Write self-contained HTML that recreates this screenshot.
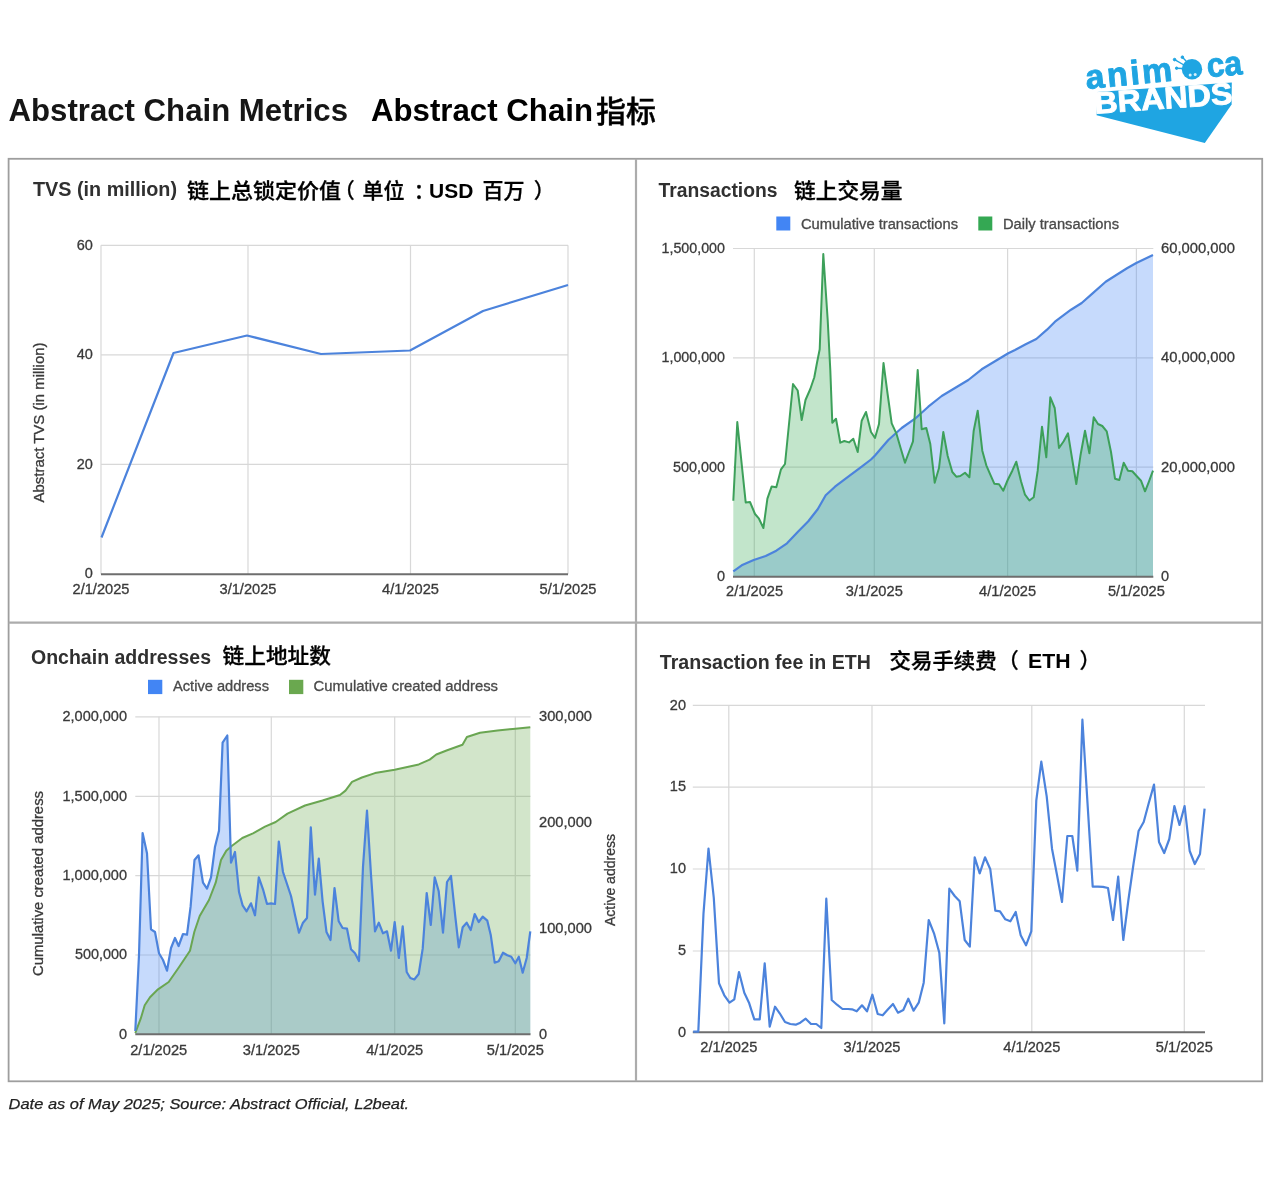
<!DOCTYPE html>
<html lang="en">
<head>
<meta charset="utf-8">
<title>Abstract Chain Metrics</title>
<style>html,body{margin:0;padding:0;background:#fff}body{width:1280px;height:1201px;overflow:hidden}svg{display:block;filter:blur(0.45px)}</style>
</head>
<body>
<svg width="1280" height="1201" viewBox="0 0 1280 1201" font-family='"Liberation Sans","Noto Sans CJK SC",sans-serif'>
<rect width="1280" height="1201" fill="#fff"/>
<text x="8.5" y="120.6" font-size="30.5" fill="#161616" font-weight="bold" textLength="339.5" lengthAdjust="spacingAndGlyphs">Abstract Chain Metrics</text>
<text x="371" y="121.3" font-size="31" fill="#000" font-weight="bold" textLength="222" lengthAdjust="spacingAndGlyphs">Abstract Chain</text>
<text x="596" y="121.8" font-size="29.5" fill="#000" font-weight="500" textLength="60" lengthAdjust="spacingAndGlyphs" stroke="#000" stroke-width="0.4">指标</text>
<g id="logo">
<polygon points="1097.2,92.0 1231.8,82.6 1231.6,104.6 1204.8,143 1096.6,115.2" fill="#1fa5e2"/>
<g transform="translate(1095.0,113.7) rotate(-4.1)">
<text x="0" y="0" font-size="30.5" fill="#fff" font-weight="bold" textLength="138.5" lengthAdjust="spacingAndGlyphs" stroke="#fff" stroke-width="0.9" stroke-linejoin="round">BRANDS</text>
</g>
<g transform="translate(1086.6,89.0) rotate(-5.5)">
<text x="0" y="0" font-size="34" fill="#1fa5e2" font-weight="bold" textLength="87" lengthAdjust="spacing" stroke="#1fa5e2" stroke-width="0.9" stroke-linejoin="round">anim</text>
<text x="121.6" y="0" font-size="34" fill="#1fa5e2" font-weight="bold" textLength="35.5" lengthAdjust="spacingAndGlyphs" stroke="#1fa5e2" stroke-width="0.9" stroke-linejoin="round">ca</text>
</g>
<g fill="#1fa5e2" stroke="#1fa5e2">
<circle cx="1192" cy="69.2" r="10.2" stroke="none"/>
<circle cx="1174.6" cy="59.6" r="1.3"/><circle cx="1182.4" cy="57.2" r="1.3"/><circle cx="1176.6" cy="68.2" r="1.2"/>
<path d="M1174.6 59.6 L1184 65 M1182.4 57.2 L1187 62 M1176.6 68.2 L1183 68.5" stroke-width="1.4" fill="none"/>
</g>
<circle cx="1190.2" cy="74.9" r="1.5" fill="#d6f0fb"/><circle cx="1195.2" cy="74.5" r="1.5" fill="#d6f0fb"/>
</g>
<g fill="none" stroke="#9e9e9e" stroke-width="1.8">
<rect x="8.6" y="158.8" width="1253.6" height="922.5"/>
</g>
<g fill="none" stroke="#acacac" stroke-width="2.2">
<line x1="636" y1="158.8" x2="636" y2="1081.2"/>
<line x1="8.6" y1="622.7" x2="1262.2" y2="622.7"/>
</g>
<g id="tvs">
<text x="33" y="195.6" font-size="20" fill="#303030" font-weight="bold" textLength="144" lengthAdjust="spacingAndGlyphs">TVS (in million)</text>
<text x="187" y="198" font-size="21" fill="#000" font-weight="500" textLength="154" lengthAdjust="spacingAndGlyphs" stroke="#000" stroke-width="0.3">链上总锁定价值</text>
<text x="333.8" y="198" font-size="21" fill="#000" font-weight="500" stroke="#000" stroke-width="0.3">（</text>
<text x="362.5" y="198" font-size="21" fill="#000" font-weight="500" stroke="#000" stroke-width="0.3">单位</text>
<text x="413.7" y="198" font-size="21" fill="#000" font-weight="500" stroke="#000" stroke-width="0.3">：</text>
<text x="429" y="198" font-size="21" fill="#000" font-weight="bold" textLength="44.3" lengthAdjust="spacingAndGlyphs">USD</text>
<text x="482.4" y="198" font-size="21" fill="#000" font-weight="500" stroke="#000" stroke-width="0.3">百万</text>
<text x="533.8" y="198" font-size="21" fill="#000" font-weight="500" stroke="#000" stroke-width="0.3">）</text>
<g stroke="#d8d8d8" stroke-width="1.2">
<line x1="101" y1="245.3" x2="568" y2="245.3"/>
<line x1="101" y1="354.8" x2="568" y2="354.8"/>
<line x1="101" y1="464.4" x2="568" y2="464.4"/>
<line x1="101" y1="245.3" x2="101" y2="574.2"/>
<line x1="248" y1="245.3" x2="248" y2="574.2"/>
<line x1="410.5" y1="245.3" x2="410.5" y2="574.2"/>
<line x1="568" y1="245.3" x2="568" y2="574.2"/>
</g>
<line x1="101" y1="574.2" x2="568" y2="574.2" stroke="#6e6e6e" stroke-width="2"/>
<text x="92.8" y="249.60000000000002" font-size="14.5" fill="#3a3a3a" text-anchor="end" stroke="#3a3a3a" stroke-width="0.3">60</text>
<text x="92.8" y="359.1" font-size="14.5" fill="#3a3a3a" text-anchor="end" stroke="#3a3a3a" stroke-width="0.3">40</text>
<text x="92.8" y="468.7" font-size="14.5" fill="#3a3a3a" text-anchor="end" stroke="#3a3a3a" stroke-width="0.3">20</text>
<text x="92.8" y="578.3" font-size="14.5" fill="#3a3a3a" text-anchor="end" stroke="#3a3a3a" stroke-width="0.3">0</text>
<text x="101" y="594" font-size="14.5" fill="#3a3a3a" text-anchor="middle" textLength="57" lengthAdjust="spacingAndGlyphs" stroke="#3a3a3a" stroke-width="0.3">2/1/2025</text>
<text x="248" y="594" font-size="14.5" fill="#3a3a3a" text-anchor="middle" textLength="57" lengthAdjust="spacingAndGlyphs" stroke="#3a3a3a" stroke-width="0.3">3/1/2025</text>
<text x="410.5" y="594" font-size="14.5" fill="#3a3a3a" text-anchor="middle" textLength="57" lengthAdjust="spacingAndGlyphs" stroke="#3a3a3a" stroke-width="0.3">4/1/2025</text>
<text x="568" y="594" font-size="14.5" fill="#3a3a3a" text-anchor="middle" textLength="57" lengthAdjust="spacingAndGlyphs" stroke="#3a3a3a" stroke-width="0.3">5/1/2025</text>
<text x="43.8" y="422.5" font-size="14.5" fill="#3a3a3a" text-anchor="middle" textLength="160" lengthAdjust="spacingAndGlyphs" transform="rotate(-90 43.8 422.5)" stroke="#3a3a3a" stroke-width="0.3">Abstract TVS (in million)</text>
<polyline points="101.5,537.5 173.5,353.0 247.0,335.5 321.0,354.0 410.0,350.5 483.0,311.0 568.0,285.0" fill="none" stroke="#4c83dc" stroke-width="2.2" stroke-linejoin="round"/>
</g>
<g id="tx">
<text x="658.5" y="197" font-size="20" fill="#303030" font-weight="bold" textLength="119" lengthAdjust="spacingAndGlyphs">Transactions</text>
<text x="794" y="198" font-size="21" fill="#000" font-weight="500" textLength="108.5" lengthAdjust="spacingAndGlyphs" stroke="#000" stroke-width="0.3">链上交易量</text>
<rect x="776.3" y="216.5" width="14" height="14" fill="#4285f4"/>
<text x="801" y="228.5" font-size="14" fill="#4a4a4a" textLength="157" lengthAdjust="spacingAndGlyphs" stroke="#4a4a4a" stroke-width="0.3">Cumulative transactions</text>
<rect x="978.3" y="216.5" width="14" height="14" fill="#34a853"/>
<text x="1003" y="228.5" font-size="14" fill="#4a4a4a" textLength="116" lengthAdjust="spacingAndGlyphs" stroke="#4a4a4a" stroke-width="0.3">Daily transactions</text>
<g stroke="#d8d8d8" stroke-width="1.2">
<line x1="733" y1="248.5" x2="1153.3" y2="248.5"/>
<line x1="733" y1="357.8" x2="1153.3" y2="357.8"/>
<line x1="733" y1="467.2" x2="1153.3" y2="467.2"/>
<line x1="754.3" y1="248.5" x2="754.3" y2="576.8"/>
<line x1="874.3" y1="248.5" x2="874.3" y2="576.8"/>
<line x1="1007.6" y1="248.5" x2="1007.6" y2="576.8"/>
<line x1="1136.4" y1="248.5" x2="1136.4" y2="576.8"/>
</g>
<polygon points="733.3,571.3 741.7,565.3 753.7,560.0 765.7,556.0 776.3,550.7 787.0,543.3 797.7,532.0 808.3,521.3 817.7,509.3 825.7,495.3 835.0,486.7 848.3,476.7 861.7,466.7 871.0,459.5 875.0,455.5 888.3,440.0 901.7,428.0 915.0,418.7 928.3,406.7 941.7,396.0 955.0,388.0 968.3,380.0 981.7,369.3 995.0,361.3 1008.3,353.3 1015.0,350.0 1025.7,344.3 1036.3,339.0 1047.0,329.7 1055.0,321.7 1071.0,309.7 1081.7,303.0 1092.3,293.7 1105.7,281.7 1116.3,275.0 1127.0,268.3 1136.3,263.0 1153.0,255.0 1153.0,576.8 733.3,576.8" fill="#4285f4" fill-opacity="0.3"/>
<polygon points="733.3,500.7 737.3,422.0 745.7,502.4 750.0,502.0 755.0,514.0 759.0,518.7 763.4,528.0 767.4,498.7 771.7,486.4 776.3,487.3 781.0,469.3 785.0,464.0 789.0,424.0 793.0,384.0 797.7,390.5 801.7,420.0 805.5,400.0 810.3,389.0 814.3,377.3 817.0,362.7 819.7,349.3 823.3,254.0 827.7,320.0 830.3,370.0 832.3,422.7 836.0,418.7 840.3,442.7 844.3,441.0 849.0,442.4 853.3,438.7 857.7,452.0 861.7,420.7 866.0,412.0 871.0,432.0 875.0,438.0 879.0,424.0 883.5,363.0 887.6,394.0 891.7,423.3 896.3,433.3 900.6,448.0 905.0,462.7 909.0,452.0 913.0,441.3 917.7,370.0 921.7,429.3 926.3,428.0 930.3,444.0 934.7,482.7 939.0,468.0 943.3,432.0 947.7,456.0 952.3,472.0 956.3,476.7 960.3,476.0 965.0,472.7 969.4,477.3 973.7,430.7 977.7,410.7 982.3,450.7 986.3,465.3 990.3,474.7 994.3,483.7 999.0,484.3 1003.3,490.7 1007.7,480.0 1012.3,470.7 1016.3,461.7 1021.0,481.3 1025.0,494.7 1029.4,500.5 1033.7,497.3 1037.7,470.7 1042.0,426.7 1046.3,457.3 1050.3,397.3 1054.7,408.0 1059.0,448.0 1063.7,441.3 1068.0,433.3 1072.3,460.0 1076.3,484.0 1080.6,454.7 1085.0,430.7 1089.4,453.3 1093.7,417.3 1098.0,424.0 1102.3,426.0 1106.7,431.3 1111.0,452.0 1115.0,478.7 1119.3,480.0 1123.7,462.7 1128.0,470.7 1132.3,471.3 1136.6,476.0 1141.0,480.7 1145.0,491.3 1149.0,481.3 1153.0,470.7 1153.0,576.8 733.3,576.8" fill="#34a853" fill-opacity="0.3"/>
<polyline points="733.3,571.3 741.7,565.3 753.7,560.0 765.7,556.0 776.3,550.7 787.0,543.3 797.7,532.0 808.3,521.3 817.7,509.3 825.7,495.3 835.0,486.7 848.3,476.7 861.7,466.7 871.0,459.5 875.0,455.5 888.3,440.0 901.7,428.0 915.0,418.7 928.3,406.7 941.7,396.0 955.0,388.0 968.3,380.0 981.7,369.3 995.0,361.3 1008.3,353.3 1015.0,350.0 1025.7,344.3 1036.3,339.0 1047.0,329.7 1055.0,321.7 1071.0,309.7 1081.7,303.0 1092.3,293.7 1105.7,281.7 1116.3,275.0 1127.0,268.3 1136.3,263.0 1153.0,255.0" fill="none" stroke="#4c83dc" stroke-width="2.2" stroke-linejoin="round"/>
<polyline points="733.3,500.7 737.3,422.0 745.7,502.4 750.0,502.0 755.0,514.0 759.0,518.7 763.4,528.0 767.4,498.7 771.7,486.4 776.3,487.3 781.0,469.3 785.0,464.0 789.0,424.0 793.0,384.0 797.7,390.5 801.7,420.0 805.5,400.0 810.3,389.0 814.3,377.3 817.0,362.7 819.7,349.3 823.3,254.0 827.7,320.0 830.3,370.0 832.3,422.7 836.0,418.7 840.3,442.7 844.3,441.0 849.0,442.4 853.3,438.7 857.7,452.0 861.7,420.7 866.0,412.0 871.0,432.0 875.0,438.0 879.0,424.0 883.5,363.0 887.6,394.0 891.7,423.3 896.3,433.3 900.6,448.0 905.0,462.7 909.0,452.0 913.0,441.3 917.7,370.0 921.7,429.3 926.3,428.0 930.3,444.0 934.7,482.7 939.0,468.0 943.3,432.0 947.7,456.0 952.3,472.0 956.3,476.7 960.3,476.0 965.0,472.7 969.4,477.3 973.7,430.7 977.7,410.7 982.3,450.7 986.3,465.3 990.3,474.7 994.3,483.7 999.0,484.3 1003.3,490.7 1007.7,480.0 1012.3,470.7 1016.3,461.7 1021.0,481.3 1025.0,494.7 1029.4,500.5 1033.7,497.3 1037.7,470.7 1042.0,426.7 1046.3,457.3 1050.3,397.3 1054.7,408.0 1059.0,448.0 1063.7,441.3 1068.0,433.3 1072.3,460.0 1076.3,484.0 1080.6,454.7 1085.0,430.7 1089.4,453.3 1093.7,417.3 1098.0,424.0 1102.3,426.0 1106.7,431.3 1111.0,452.0 1115.0,478.7 1119.3,480.0 1123.7,462.7 1128.0,470.7 1132.3,471.3 1136.6,476.0 1141.0,480.7 1145.0,491.3 1149.0,481.3 1153.0,470.7" fill="none" stroke="#3da05a" stroke-width="2" stroke-linejoin="round"/>
<line x1="733" y1="576.8" x2="1153.3" y2="576.8" stroke="#6e6e6e" stroke-width="2"/>
<text x="725" y="252.8" font-size="14.5" fill="#3a3a3a" text-anchor="end" textLength="63.5" lengthAdjust="spacingAndGlyphs" stroke="#3a3a3a" stroke-width="0.3">1,500,000</text>
<text x="725" y="362.1" font-size="14.5" fill="#3a3a3a" text-anchor="end" textLength="63.5" lengthAdjust="spacingAndGlyphs" stroke="#3a3a3a" stroke-width="0.3">1,000,000</text>
<text x="725" y="471.5" font-size="14.5" fill="#3a3a3a" text-anchor="end" textLength="52" lengthAdjust="spacingAndGlyphs" stroke="#3a3a3a" stroke-width="0.3">500,000</text>
<text x="725" y="581.0999999999999" font-size="14.5" fill="#3a3a3a" text-anchor="end" stroke="#3a3a3a" stroke-width="0.3">0</text>
<text x="1161" y="252.8" font-size="14.5" fill="#3a3a3a" textLength="74" lengthAdjust="spacingAndGlyphs" stroke="#3a3a3a" stroke-width="0.3">60,000,000</text>
<text x="1161" y="362.1" font-size="14.5" fill="#3a3a3a" textLength="74" lengthAdjust="spacingAndGlyphs" stroke="#3a3a3a" stroke-width="0.3">40,000,000</text>
<text x="1161" y="471.5" font-size="14.5" fill="#3a3a3a" textLength="74" lengthAdjust="spacingAndGlyphs" stroke="#3a3a3a" stroke-width="0.3">20,000,000</text>
<text x="1161" y="581.0999999999999" font-size="14.5" fill="#3a3a3a" stroke="#3a3a3a" stroke-width="0.3">0</text>
<text x="754.6" y="596" font-size="14.5" fill="#3a3a3a" text-anchor="middle" textLength="57" lengthAdjust="spacingAndGlyphs" stroke="#3a3a3a" stroke-width="0.3">2/1/2025</text>
<text x="874.3" y="596" font-size="14.5" fill="#3a3a3a" text-anchor="middle" textLength="57" lengthAdjust="spacingAndGlyphs" stroke="#3a3a3a" stroke-width="0.3">3/1/2025</text>
<text x="1007.6" y="596" font-size="14.5" fill="#3a3a3a" text-anchor="middle" textLength="57" lengthAdjust="spacingAndGlyphs" stroke="#3a3a3a" stroke-width="0.3">4/1/2025</text>
<text x="1136.4" y="596" font-size="14.5" fill="#3a3a3a" text-anchor="middle" textLength="57" lengthAdjust="spacingAndGlyphs" stroke="#3a3a3a" stroke-width="0.3">5/1/2025</text>
</g>
<g id="oc">
<text x="31" y="663.5" font-size="20" fill="#303030" font-weight="bold" textLength="180" lengthAdjust="spacingAndGlyphs">Onchain addresses</text>
<text x="222.5" y="662.5" font-size="21" fill="#000" font-weight="500" textLength="108.5" lengthAdjust="spacingAndGlyphs" stroke="#000" stroke-width="0.3">链上地址数</text>
<rect x="148" y="679.8" width="14.3" height="14.3" fill="#4285f4"/>
<text x="173" y="691" font-size="14" fill="#4a4a4a" textLength="96" lengthAdjust="spacingAndGlyphs" stroke="#4a4a4a" stroke-width="0.3">Active address</text>
<rect x="289" y="679.8" width="14.3" height="14.3" fill="#6aa84f"/>
<text x="313.5" y="691" font-size="14" fill="#4a4a4a" textLength="184.5" lengthAdjust="spacingAndGlyphs" stroke="#4a4a4a" stroke-width="0.3">Cumulative created address</text>
<g stroke="#d8d8d8" stroke-width="1.2">
<line x1="135.3" y1="716.8" x2="530.5" y2="716.8"/>
<line x1="135.3" y1="796.3" x2="530.5" y2="796.3"/>
<line x1="135.3" y1="875.7" x2="530.5" y2="875.7"/>
<line x1="135.3" y1="955" x2="530.5" y2="955"/>
<line x1="159" y1="716.8" x2="159" y2="1034.3"/>
<line x1="271.3" y1="716.8" x2="271.3" y2="1034.3"/>
<line x1="394.7" y1="716.8" x2="394.7" y2="1034.3"/>
<line x1="515.3" y1="716.8" x2="515.3" y2="1034.3"/>
</g>
<polygon points="135.3,1031.0 139.0,955.0 142.6,833.0 147.0,853.3 151.0,929.3 155.0,932.0 159.0,953.3 163.0,960.0 167.0,970.7 171.0,948.0 175.0,938.0 178.6,946.0 183.0,934.0 187.0,934.7 190.6,906.7 194.5,860.0 198.5,855.3 203.0,882.7 207.0,888.7 211.0,877.3 215.0,846.7 219.0,830.7 222.6,742.7 227.3,735.5 231.0,862.7 235.0,852.0 239.0,892.0 242.6,905.3 246.6,911.3 251.0,903.3 255.0,915.3 258.8,877.3 263.0,889.3 267.0,904.0 271.0,903.3 275.0,904.0 278.8,841.5 283.0,872.0 287.0,884.0 291.0,896.0 295.0,915.0 299.0,932.7 303.0,922.7 307.0,918.0 310.8,827.3 315.0,894.7 318.8,858.7 322.6,901.3 326.5,932.0 330.5,940.0 334.5,888.0 338.7,921.3 342.6,928.0 347.0,928.7 351.0,949.3 355.0,953.3 359.0,961.0 363.0,866.7 367.0,810.7 371.0,874.7 375.0,931.3 378.8,922.7 383.0,933.3 387.0,931.3 391.0,950.7 394.7,922.0 398.8,958.0 402.7,926.3 406.7,972.0 410.3,978.0 414.3,979.5 418.7,974.0 422.7,948.7 426.7,893.0 430.8,925.0 434.7,877.3 438.7,891.3 443.0,932.7 447.0,882.0 451.0,876.0 455.3,916.7 458.8,947.3 462.7,927.3 466.7,922.7 470.7,930.0 474.7,914.0 478.7,922.0 482.7,916.7 487.3,920.7 490.8,935.3 494.7,962.7 498.7,961.3 503.0,952.7 507.3,955.3 511.3,956.7 515.3,963.3 518.8,956.7 522.7,972.7 526.7,958.0 530.3,931.3 530.3,1034.3 135.3,1034.3" fill="#4285f4" fill-opacity="0.3"/>
<polygon points="135.3,1033.0 140.7,1018.7 144.7,1005.3 150.0,997.3 158.0,989.3 168.7,982.0 179.3,966.7 190.0,950.7 194.3,932.0 199.7,916.0 209.0,900.0 215.7,882.7 221.0,860.0 226.3,850.7 231.7,846.0 242.3,838.0 253.0,833.3 265.0,826.7 275.7,822.0 287.5,813.6 305.0,805.5 322.5,800.5 340.0,795.0 345.5,790.6 352.0,781.9 361.9,777.5 375.0,773.1 394.7,769.8 418.8,764.4 429.7,759.6 436.3,754.5 447.2,750.2 462.5,744.7 466.9,737.0 480.0,732.7 497.5,730.5 512.8,728.9 530.3,727.2 530.3,1034.3 135.3,1034.3" fill="#6aa84f" fill-opacity="0.3"/>
<polyline points="135.3,1033.0 140.7,1018.7 144.7,1005.3 150.0,997.3 158.0,989.3 168.7,982.0 179.3,966.7 190.0,950.7 194.3,932.0 199.7,916.0 209.0,900.0 215.7,882.7 221.0,860.0 226.3,850.7 231.7,846.0 242.3,838.0 253.0,833.3 265.0,826.7 275.7,822.0 287.5,813.6 305.0,805.5 322.5,800.5 340.0,795.0 345.5,790.6 352.0,781.9 361.9,777.5 375.0,773.1 394.7,769.8 418.8,764.4 429.7,759.6 436.3,754.5 447.2,750.2 462.5,744.7 466.9,737.0 480.0,732.7 497.5,730.5 512.8,728.9 530.3,727.2" fill="none" stroke="#6aa652" stroke-width="2" stroke-linejoin="round"/>
<polyline points="135.3,1031.0 139.0,955.0 142.6,833.0 147.0,853.3 151.0,929.3 155.0,932.0 159.0,953.3 163.0,960.0 167.0,970.7 171.0,948.0 175.0,938.0 178.6,946.0 183.0,934.0 187.0,934.7 190.6,906.7 194.5,860.0 198.5,855.3 203.0,882.7 207.0,888.7 211.0,877.3 215.0,846.7 219.0,830.7 222.6,742.7 227.3,735.5 231.0,862.7 235.0,852.0 239.0,892.0 242.6,905.3 246.6,911.3 251.0,903.3 255.0,915.3 258.8,877.3 263.0,889.3 267.0,904.0 271.0,903.3 275.0,904.0 278.8,841.5 283.0,872.0 287.0,884.0 291.0,896.0 295.0,915.0 299.0,932.7 303.0,922.7 307.0,918.0 310.8,827.3 315.0,894.7 318.8,858.7 322.6,901.3 326.5,932.0 330.5,940.0 334.5,888.0 338.7,921.3 342.6,928.0 347.0,928.7 351.0,949.3 355.0,953.3 359.0,961.0 363.0,866.7 367.0,810.7 371.0,874.7 375.0,931.3 378.8,922.7 383.0,933.3 387.0,931.3 391.0,950.7 394.7,922.0 398.8,958.0 402.7,926.3 406.7,972.0 410.3,978.0 414.3,979.5 418.7,974.0 422.7,948.7 426.7,893.0 430.8,925.0 434.7,877.3 438.7,891.3 443.0,932.7 447.0,882.0 451.0,876.0 455.3,916.7 458.8,947.3 462.7,927.3 466.7,922.7 470.7,930.0 474.7,914.0 478.7,922.0 482.7,916.7 487.3,920.7 490.8,935.3 494.7,962.7 498.7,961.3 503.0,952.7 507.3,955.3 511.3,956.7 515.3,963.3 518.8,956.7 522.7,972.7 526.7,958.0 530.3,931.3" fill="none" stroke="#4c83dc" stroke-width="2.2" stroke-linejoin="round"/>
<line x1="135.3" y1="1034.3" x2="530.5" y2="1034.3" stroke="#6e6e6e" stroke-width="2"/>
<text x="127" y="721.0999999999999" font-size="14.5" fill="#3a3a3a" text-anchor="end" textLength="64.5" lengthAdjust="spacingAndGlyphs" stroke="#3a3a3a" stroke-width="0.3">2,000,000</text>
<text x="127" y="800.5999999999999" font-size="14.5" fill="#3a3a3a" text-anchor="end" textLength="64.5" lengthAdjust="spacingAndGlyphs" stroke="#3a3a3a" stroke-width="0.3">1,500,000</text>
<text x="127" y="880.0" font-size="14.5" fill="#3a3a3a" text-anchor="end" textLength="64.5" lengthAdjust="spacingAndGlyphs" stroke="#3a3a3a" stroke-width="0.3">1,000,000</text>
<text x="127" y="959.3" font-size="14.5" fill="#3a3a3a" text-anchor="end" textLength="52" lengthAdjust="spacingAndGlyphs" stroke="#3a3a3a" stroke-width="0.3">500,000</text>
<text x="127" y="1038.6" font-size="14.5" fill="#3a3a3a" text-anchor="end" stroke="#3a3a3a" stroke-width="0.3">0</text>
<text x="539" y="721.0999999999999" font-size="14.5" fill="#3a3a3a" textLength="53" lengthAdjust="spacingAndGlyphs" stroke="#3a3a3a" stroke-width="0.3">300,000</text>
<text x="539" y="826.9" font-size="14.5" fill="#3a3a3a" textLength="53" lengthAdjust="spacingAndGlyphs" stroke="#3a3a3a" stroke-width="0.3">200,000</text>
<text x="539" y="932.8" font-size="14.5" fill="#3a3a3a" textLength="53" lengthAdjust="spacingAndGlyphs" stroke="#3a3a3a" stroke-width="0.3">100,000</text>
<text x="539" y="1038.6" font-size="14.5" fill="#3a3a3a" stroke="#3a3a3a" stroke-width="0.3">0</text>
<text x="158.7" y="1054.7" font-size="14.5" fill="#3a3a3a" text-anchor="middle" textLength="57" lengthAdjust="spacingAndGlyphs" stroke="#3a3a3a" stroke-width="0.3">2/1/2025</text>
<text x="271.3" y="1054.7" font-size="14.5" fill="#3a3a3a" text-anchor="middle" textLength="57" lengthAdjust="spacingAndGlyphs" stroke="#3a3a3a" stroke-width="0.3">3/1/2025</text>
<text x="394.7" y="1054.7" font-size="14.5" fill="#3a3a3a" text-anchor="middle" textLength="57" lengthAdjust="spacingAndGlyphs" stroke="#3a3a3a" stroke-width="0.3">4/1/2025</text>
<text x="515.3" y="1054.7" font-size="14.5" fill="#3a3a3a" text-anchor="middle" textLength="57" lengthAdjust="spacingAndGlyphs" stroke="#3a3a3a" stroke-width="0.3">5/1/2025</text>
<text x="43" y="883.5" font-size="14.5" fill="#3a3a3a" text-anchor="middle" textLength="185" lengthAdjust="spacingAndGlyphs" transform="rotate(-90 43 883.5)" stroke="#3a3a3a" stroke-width="0.3">Cumulative created address</text>
<text x="615" y="880" font-size="14.5" fill="#3a3a3a" text-anchor="middle" textLength="92" lengthAdjust="spacingAndGlyphs" transform="rotate(-90 615 880)" stroke="#3a3a3a" stroke-width="0.3">Active address</text>
</g>
<g id="fee">
<text x="659.8" y="668.8" font-size="20" fill="#303030" font-weight="bold" textLength="211" lengthAdjust="spacingAndGlyphs">Transaction fee in ETH</text>
<text x="889.6" y="668.3" font-size="21" fill="#000" font-weight="500" textLength="107" lengthAdjust="spacingAndGlyphs" stroke="#000" stroke-width="0.3">交易手续费</text>
<text x="997.8" y="668.3" font-size="21" fill="#000" font-weight="500" stroke="#000" stroke-width="0.3">（</text>
<text x="1028" y="668.3" font-size="21" fill="#000" font-weight="bold" textLength="42.5" lengthAdjust="spacingAndGlyphs">ETH</text>
<text x="1079.4" y="668.3" font-size="21" fill="#000" font-weight="500" stroke="#000" stroke-width="0.3">）</text>
<g stroke="#d8d8d8" stroke-width="1.2">
<line x1="692.8" y1="705.3" x2="1205" y2="705.3"/>
<line x1="692.8" y1="787.1" x2="1205" y2="787.1"/>
<line x1="692.8" y1="869" x2="1205" y2="869"/>
<line x1="692.8" y1="951" x2="1205" y2="951"/>
<line x1="728.8" y1="705.3" x2="728.8" y2="1032.3"/>
<line x1="872" y1="705.3" x2="872" y2="1032.3"/>
<line x1="1031.8" y1="705.3" x2="1031.8" y2="1032.3"/>
<line x1="1184.3" y1="705.3" x2="1184.3" y2="1032.3"/>
</g>
<line x1="692.8" y1="1032.3" x2="1205" y2="1032.3" stroke="#6e6e6e" stroke-width="2"/>
<polyline points="693.2,1031.7 698.3,1031.7 703.5,913.3 708.5,848.5 713.8,898.0 719.0,983.3 724.3,995.3 729.5,1002.7 734.3,999.3 739.0,972.0 744.3,992.7 749.0,1002.7 754.3,1019.3 759.7,1019.3 764.7,963.3 769.7,1026.7 775.0,1006.7 779.7,1013.3 785.0,1022.0 790.3,1024.0 795.7,1024.7 800.3,1022.7 805.7,1018.7 811.0,1024.0 816.3,1024.0 821.3,1028.0 826.3,898.7 831.7,1000.0 837.0,1004.7 842.5,1009.0 848.0,1009.0 852.0,1009.3 856.7,1011.3 862.0,1005.3 867.0,1011.3 872.4,994.7 877.7,1014.0 882.7,1015.3 888.0,1009.3 893.0,1004.0 898.0,1012.7 903.3,1010.0 908.3,998.7 913.6,1010.7 918.7,1002.7 923.7,982.7 928.7,920.0 934.0,933.3 939.3,952.7 944.3,1023.3 949.3,888.7 954.7,896.0 959.7,901.3 964.7,940.0 969.8,946.7 974.7,857.3 979.7,873.3 985.0,857.3 990.3,869.3 995.3,910.7 1000.0,911.3 1005.3,919.3 1010.4,921.3 1015.7,912.0 1020.7,935.3 1026.0,945.3 1031.3,931.3 1036.3,800.3 1041.3,761.7 1046.7,796.3 1052.0,848.7 1057.0,875.0 1062.0,902.0 1067.3,836.0 1072.3,836.0 1077.3,870.7 1082.4,719.7 1087.5,803.0 1092.7,886.7 1097.8,886.7 1102.9,886.9 1108.0,888.0 1113.0,920.0 1118.2,876.7 1123.3,940.0 1128.4,900.0 1133.5,864.0 1138.6,831.0 1143.7,822.0 1148.8,803.0 1154.0,784.5 1159.0,842.0 1164.2,853.0 1169.3,839.0 1174.4,806.0 1179.5,825.0 1184.6,806.0 1189.7,851.0 1194.8,864.0 1200.0,854.0 1204.6,808.7" fill="none" stroke="#4c83dc" stroke-width="2.2" stroke-linejoin="round"/>
<text x="686" y="709.5999999999999" font-size="14.5" fill="#3a3a3a" text-anchor="end" stroke="#3a3a3a" stroke-width="0.3">20</text>
<text x="686" y="791.4" font-size="14.5" fill="#3a3a3a" text-anchor="end" stroke="#3a3a3a" stroke-width="0.3">15</text>
<text x="686" y="873.3" font-size="14.5" fill="#3a3a3a" text-anchor="end" stroke="#3a3a3a" stroke-width="0.3">10</text>
<text x="686" y="955.3" font-size="14.5" fill="#3a3a3a" text-anchor="end" stroke="#3a3a3a" stroke-width="0.3">5</text>
<text x="686" y="1036.6" font-size="14.5" fill="#3a3a3a" text-anchor="end" stroke="#3a3a3a" stroke-width="0.3">0</text>
<text x="728.8" y="1052" font-size="14.5" fill="#3a3a3a" text-anchor="middle" textLength="57" lengthAdjust="spacingAndGlyphs" stroke="#3a3a3a" stroke-width="0.3">2/1/2025</text>
<text x="872" y="1052" font-size="14.5" fill="#3a3a3a" text-anchor="middle" textLength="57" lengthAdjust="spacingAndGlyphs" stroke="#3a3a3a" stroke-width="0.3">3/1/2025</text>
<text x="1031.8" y="1052" font-size="14.5" fill="#3a3a3a" text-anchor="middle" textLength="57" lengthAdjust="spacingAndGlyphs" stroke="#3a3a3a" stroke-width="0.3">4/1/2025</text>
<text x="1184.3" y="1052" font-size="14.5" fill="#3a3a3a" text-anchor="middle" textLength="57" lengthAdjust="spacingAndGlyphs" stroke="#3a3a3a" stroke-width="0.3">5/1/2025</text>
</g>
<text x="8.6" y="1108.5" font-size="15.5" fill="#222" font-style="italic" textLength="400.5" lengthAdjust="spacingAndGlyphs" stroke="#222" stroke-width="0.25">Date as of May 2025; Source: Abstract Official, L2beat.</text>
</svg>
</body>
</html>
